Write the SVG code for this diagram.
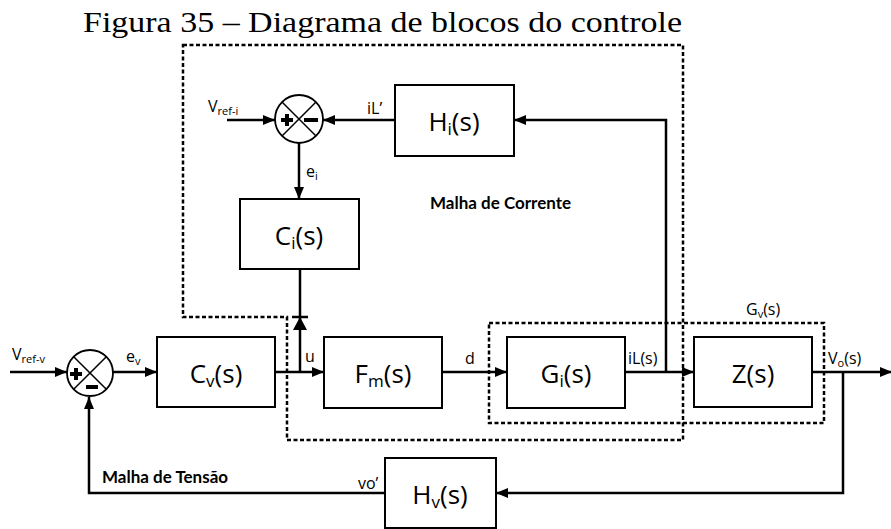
<svg xmlns="http://www.w3.org/2000/svg" width="891" height="529" viewBox="0 0 891 529">
<style>
.box{fill:#fff;stroke:#000;stroke-width:2}
.ln{fill:none;stroke:#000;stroke-width:2.5}
.dash{fill:none;stroke:#000;stroke-width:2.5;stroke-dasharray:4 2.5}
.bl{font-family:"Open Sans","DejaVu Sans",sans-serif;font-size:26px;text-anchor:middle;fill:#000}
.sl{font-family:"Open Sans","DejaVu Sans",sans-serif;font-size:16px;fill:#000}
.bold{font-family:Lato,"Liberation Sans",sans-serif;font-weight:bold;font-size:17px;fill:#000}
.title{font-family:"Liberation Serif",serif;font-size:30px;fill:#000}
.sum circle{fill:#fff;stroke:#000;stroke-width:1.8}
.sum .x{stroke:#000;stroke-width:1.5}
.sum .sg{stroke:#000;stroke-width:4;fill:none}
</style>
<defs>
<marker id="arr" markerUnits="userSpaceOnUse" markerWidth="12" markerHeight="10" refX="12" refY="5" orient="auto">
<path d="M0,0 L12,5 L0,10 Z" fill="#000"/>
</marker>
</defs>
<text class="title" x="83" y="32" textLength="599" lengthAdjust="spacingAndGlyphs">Figura 35 – Diagrama de blocos do controle</text>

<g id="loops">
<path class="dash" d="M183,45 H683 V440 H287 V317 H183 Z"/>
<rect class="dash" x="489" y="323" width="335" height="100"/>
</g>

<g id="connectors">
<path class="ln" d="M10,372 H67" marker-end="url(#arr)"/>
<path class="ln" d="M113,372 H157" marker-end="url(#arr)"/>
<path class="ln" d="M275,372 H324" marker-end="url(#arr)"/>
<path class="ln" d="M300,372 V269"/>
<path d="M300,317 L307,330 L293,330 Z" fill="#000"/>
<path class="ln" d="M292,317 H308"/>
<path class="ln" d="M442,372 H507" marker-end="url(#arr)"/>
<path class="ln" d="M625,372 H694" marker-end="url(#arr)"/>
<path class="ln" d="M666,372 V120 H514" marker-end="url(#arr)"/>
<path class="ln" d="M395,120 H323" marker-end="url(#arr)"/>
<path class="ln" d="M227,120 H275" marker-end="url(#arr)"/>
<path class="ln" d="M299,143 V199" marker-end="url(#arr)"/>
<path class="ln" d="M812,372 H892" marker-end="url(#arr)"/>
<path class="ln" d="M843,372 V493 H496" marker-end="url(#arr)"/>
<path class="ln" d="M385,493 H89 V397" marker-end="url(#arr)"/>
</g>

<g id="sum-v" class="sum">
<circle cx="90" cy="373" r="23"/>
<path class="x" d="M73.7,356.7 L106.3,389.3 M106.3,356.7 L73.7,389.3"/>
<path class="sg" d="M70,374 H82 M76,368 V380"/>
<path class="sg" d="M86,387 H98"/>
</g>

<g id="sum-i" class="sum">
<circle cx="299" cy="119" r="24"/>
<path class="x" d="M282,102 L316,136 M316,102 L282,136"/>
<path class="sg" d="M281,120 H293 M287,114 V126"/>
<path class="sg" d="M304,120 H318"/>
</g>

<g id="Cv"><rect class="box" x="157" y="337" width="118" height="70"/>
<text class="bl" x="216" y="383">C<tspan font-size="17" dy="4">v</tspan><tspan dy="-4">(s)</tspan></text></g>
<g id="Fm"><rect class="box" x="324" y="337" width="118" height="71"/>
<text class="bl" x="383" y="383">F<tspan font-size="17" dy="4">m</tspan><tspan dy="-4">(s)</tspan></text></g>
<g id="Gi"><rect class="box" x="507" y="337" width="118" height="71"/>
<text class="bl" x="566" y="383">G<tspan font-size="17" dy="4">i</tspan><tspan dy="-4">(s)</tspan></text></g>
<g id="Z"><rect class="box" x="694" y="337" width="118" height="70"/>
<text class="bl" x="753" y="383">Z(s)</text></g>
<g id="Ci"><rect class="box" x="240" y="199" width="119" height="70"/>
<text class="bl" x="299" y="245">C<tspan font-size="17" dy="4">i</tspan><tspan dy="-4">(s)</tspan></text></g>
<g id="Hi"><rect class="box" x="395" y="85" width="119" height="71"/>
<text class="bl" x="454" y="131">H<tspan font-size="17" dy="4">i</tspan><tspan dy="-4">(s)</tspan></text></g>
<g id="Hv"><rect class="box" x="385" y="458" width="111" height="70"/>
<text class="bl" x="440" y="504">H<tspan font-size="17" dy="4">v</tspan><tspan dy="-4">(s)</tspan></text></g>

<g id="labels">
<text class="sl" x="12" y="360">V<tspan font-size="11" dy="3">ref-v</tspan></text>
<text class="sl" x="126" y="362">e<tspan font-size="11" dy="3">v</tspan></text>
<text class="sl" x="305" y="362">u</text>
<text class="sl" x="465" y="364">d</text>
<text class="sl" x="628" y="364">iL(s)</text>
<text class="sl" x="828" y="364">V<tspan font-size="11" dy="3">o</tspan><tspan dy="-3">(s)</tspan></text>
<text class="sl" x="746" y="315">G<tspan font-size="11" dy="3">v</tspan><tspan dy="-3">(s)</tspan></text>
<text class="sl" x="208" y="112">V<tspan font-size="11" dy="3">ref-i</tspan></text>
<text class="sl" x="367" y="114">iL’</text>
<text class="sl" x="306" y="177">e<tspan font-size="11" dy="3">i</tspan></text>
<text class="sl" x="358" y="489">vo’</text>
<text class="bold" x="430" y="209">Malha de Corrente</text>
<text class="bold" x="102" y="483">Malha de Tensão</text>
</g>
</svg>
